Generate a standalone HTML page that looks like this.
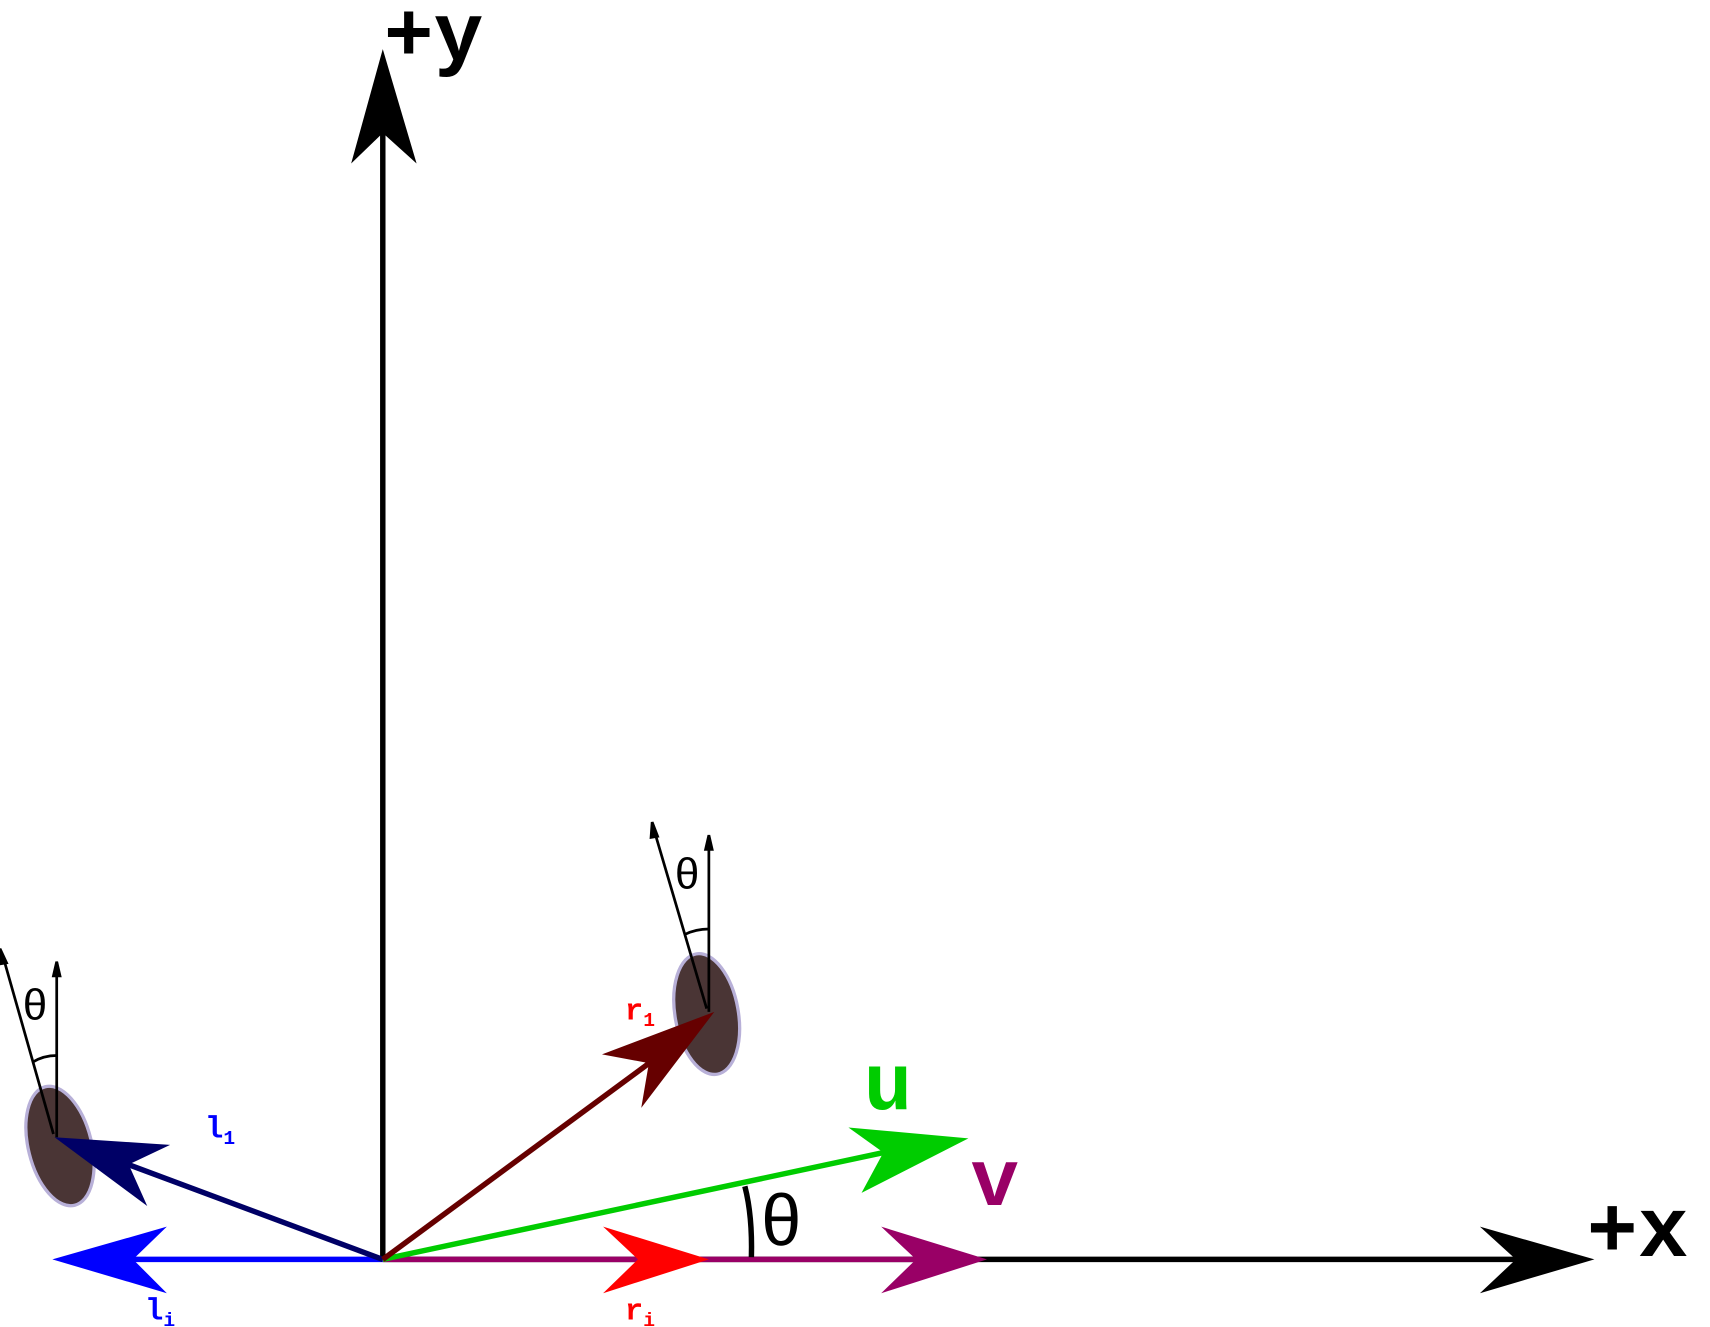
<!DOCTYPE html>
<html><head><meta charset="utf-8"><style>
html,body{margin:0;padding:0;background:#fff;width:1710px;height:1327px;overflow:hidden}
svg{display:block}
.m{font-family:"Liberation Mono",monospace;font-weight:bold}
.s{font-family:"Liberation Sans","DejaVu Sans",sans-serif}
</style></head><body>
<svg width="1710" height="1327" viewBox="0 0 1568 1217" preserveAspectRatio="none" xmlns="http://www.w3.org/2000/svg">
<g>
<line x1="351" y1="1155" x2="351" y2="115" stroke="#000" stroke-width="5"/>
<polygon points="351,45 322,150 351,122 382,150" fill="#000"/>
<text class="m" x="352" y="55" font-size="76">+y</text>
</g>
<g>
<line x1="351" y1="1155" x2="1400" y2="1155" stroke="#000" stroke-width="5"/>
<polygon points="1462,1155 1357,1125 1390,1155 1357,1186" fill="#000"/>
<text class="m" x="1455" y="1152" font-size="78">+x</text>
</g>
<g>
<line x1="351" y1="1155" x2="118" y2="1155" stroke="#0000ff" stroke-width="5"/>
<polygon points="48,1155 153,1125 122,1155 153,1186" fill="#0000ff"/>
<text class="m" x="133" y="1210" font-size="28" fill="#0000ff">l<tspan font-size="18" dy="6">i</tspan></text>
</g>
<g>
<line x1="351" y1="1155" x2="845" y2="1155" stroke="#990066" stroke-width="5"/>
<polygon points="905,1155 808,1125 840,1155 808,1186" fill="#990066"/>
<text class="m" x="890" y="1105" font-size="74" fill="#990066">v</text>
</g>
<g>
<polygon points="650,1155 553,1125 585,1155 553,1186" fill="#ff0000"/>
<text class="m" x="573" y="1210" font-size="28" fill="#ff0000">r<tspan font-size="18" dy="6">i</tspan></text>
</g>
<g>
<line x1="351" y1="1155" x2="815" y2="1056" stroke="#00cc00" stroke-width="5"/>
<polygon points="888,1044 778,1034 810,1057 790,1094" fill="#00cc00"/>
<text class="m" x="792" y="1017" font-size="74" fill="#00cc00">u</text>
</g>
<g>
<ellipse cx="55" cy="1051" rx="29" ry="56" transform="rotate(-14 55 1051)" fill="#4a3535" stroke="#b8b0d8" stroke-width="3"/>
<line x1="351" y1="1155" x2="115" y2="1067" stroke="#000066" stroke-width="5"/>
<polygon points="50,1043 156,1050 118,1068 135,1106" fill="#000066"/>
<text class="m" x="188" y="1043" font-size="28" fill="#0000ff">l<tspan font-size="18" dy="6">1</tspan></text>
</g>
<g>
<ellipse cx="648" cy="930" rx="29" ry="56" transform="rotate(-10 648 930)" fill="#4a3535" stroke="#b8b0d8" stroke-width="3"/>
<line x1="351" y1="1155" x2="598" y2="973" stroke="#660000" stroke-width="5"/>
<polygon points="655,928 552,967 595,975 588,1016" fill="#660000"/>
<text class="m" x="573" y="935" font-size="28" fill="#ff0000">r<tspan font-size="18" dy="6">1</tspan></text>
</g>
<g stroke="#000" stroke-width="2.5" fill="none">
<line x1="52" y1="1043" x2="52" y2="890"/>
<polygon points="52,882 49,895 55,895" fill="#000"/>
<line x1="49" y1="1040" x2="3" y2="878"/>
<polygon points="0,870 0,884 6,883" fill="#000"/>
<path d="M30,974 Q40,968 52,968"/>
</g>
<text class="s" x="21" y="935" font-size="40">θ</text>
<g stroke="#000" stroke-width="2.5" fill="none">
<line x1="650" y1="928" x2="650" y2="775"/>
<polygon points="650,766 647,779 653,779" fill="#000"/>
<line x1="648" y1="925" x2="600" y2="762"/>
<polygon points="598,754 597,768 603,767" fill="#000"/>
<path d="M628,857 Q638,852 650,852"/>
</g>
<text class="s" x="619" y="815" font-size="40">θ</text>
<g>
<path d="M683,1088 Q690,1115 689,1153" stroke="#000" stroke-width="5" fill="none"/>
<text class="s" x="698" y="1142" font-size="66">θ</text>
</g>
</svg>
</body></html>
